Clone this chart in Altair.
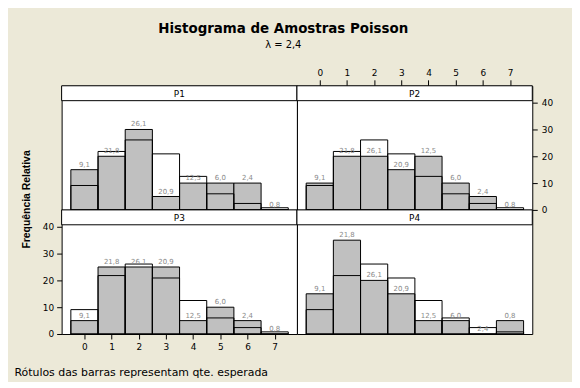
import altair as alt
import pandas as pd

# ---- data ----
values = [0, 1, 2, 3, 4, 5, 6, 7]
expected = [9.1, 21.8, 26.1, 20.9, 12.5, 6.0, 2.4, 0.8]
expected_labels = ["9,1", "21,8", "26,1", "20,9", "12,5", "6,0", "2,4", "0,8"]
panel_names = ["P1", "P2", "P3", "P4"]
obs_p1 = [15, 20, 30, 5, 10, 10, 10, 0]
obs_p2 = [10, 20, 20, 15, 20, 10, 5, 0]
obs_p3 = [5, 25, 25, 25, 5, 10, 5, 0]
obs_p4 = [15, 35, 20, 15, 5, 5, 0, 5]
y_ticks = [0, 10, 20, 30, 40]

W, H, STRIP = 237, 125, 15
XDOM = [-0.84, 7.82]
YDOM = [0, 46.3]
FONT = "DejaVu Sans"


def panel(name, obs, xaxis, yaxis):
    df = pd.DataFrame({
        "k": values,
        "lo": [v - 0.5 for v in values],
        "hi": [v + 0.5 for v in values],
        "zero": [0] * len(values),
        "obs": obs,
        "exp": expected,
        "lab": expected_labels,
    })
    xs = alt.Scale(domain=XDOM, nice=False, zero=False)
    ys = alt.Scale(domain=YDOM, nice=False, zero=False)
    base = alt.Chart(df)
    bars = base.mark_rect(fill="#C0C0C0", stroke="black", strokeWidth=1).encode(
        x=alt.X("lo:Q", scale=xs, axis=xaxis),
        x2="hi",
        y=alt.Y("obs:Q", scale=ys, axis=yaxis),
        y2="zero",
    )
    exp = base.mark_rect(fillOpacity=0, stroke="black", strokeWidth=1).encode(
        x=alt.X("lo:Q", scale=xs, axis=xaxis),
        x2="hi",
        y=alt.Y("exp:Q", scale=ys, axis=yaxis),
        y2="zero",
    )
    labels = base.mark_text(baseline="bottom", dy=-2, fontSize=7, font=FONT,
                            color="#8a8a8a").encode(
        x=alt.X("k:Q", scale=xs, axis=xaxis),
        y=alt.Y("obs:Q", scale=ys, axis=yaxis),
        text="lab:N",
    )
    sdf = pd.DataFrame({"p": [name]})
    strip = alt.Chart(sdf).mark_rect(fill="white", stroke="black", strokeWidth=1).encode(
        x=alt.value(0), x2=alt.value(W), y=alt.value(0), y2=alt.value(STRIP)
    )
    strip_text = alt.Chart(sdf).mark_text(fontSize=9, font=FONT, color="black",
                                          baseline="middle").encode(
        x=alt.value(W / 2), y=alt.value(STRIP / 2 + 0.5), text="p:N"
    )
    return alt.layer(bars, exp, labels, strip, strip_text).properties(width=W, height=H)


axis_common = dict(domain=False, grid=False, tickColor="black",
                   labelColor="black", labelFont=FONT, labelFontSize=9)

x_top = alt.Axis(orient="top", values=values, format="d", tickSize=6, labelPadding=2,
                 title=None, **axis_common)
y_right = alt.Axis(orient="right", values=y_ticks, format="d", tickSize=5, labelPadding=4,
                   title=None, **axis_common)
x_bottom = alt.Axis(orient="bottom", values=values, format="d", tickSize=5, labelPadding=4,
                    title="Rótulos das barras representam qte. esperada",
                    titleFont=FONT, titleFontSize=11, titleFontWeight="normal",
                    titleColor="black", titleAnchor="start", titleAlign="left",
                    titleBaseline="alphabetic", titleX=-48, titleY=42,
                    **axis_common)
y_left = alt.Axis(orient="left", values=y_ticks, format="d", tickSize=5, labelPadding=3,
                  title="Frequência Relativa", titleFont="Liberation Sans",
                  titleFontSize=10.5, titleFontWeight="bold", titleColor="black",
                  titleAngle=-90, titleAlign="center", titleBaseline="middle",
                  titleX=-35, titleY=-11,
                  **axis_common)

p1 = panel(panel_names[0], obs_p1, None, None)
p2 = panel(panel_names[1], obs_p2, x_top, y_right)
p3 = panel(panel_names[2], obs_p3, x_bottom, y_left)
p4 = panel(panel_names[3], obs_p4, None, None)

chart = alt.concat(p1, p2, p3, p4, columns=2, spacing=0, bounds="flush").properties(
    title=alt.TitleParams(
        text="Histograma de Amostras Poisson",
        subtitle="λ = 2,4",
        font=FONT, fontSize=13.5, fontWeight="bold", color="black",
        subtitleFont=FONT, subtitleFontSize=10, subtitleColor="black",
        subtitlePadding=4, anchor="middle", offset=19,
    ),
    padding={"left": 5, "top": 13, "right": 19, "bottom": 2},
    background="#ECE9D8",
).configure_view(stroke="black", strokeWidth=1, fill="white")

chart.save("out.html", embed_options={"renderer": "svg", "actions": False})
